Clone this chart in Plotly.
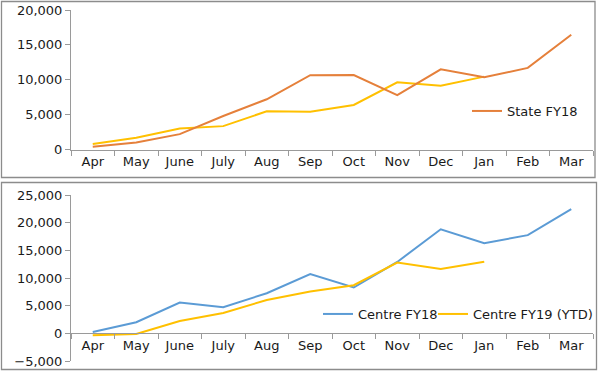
import plotly.graph_objects as go
from plotly.subplots import make_subplots

months = ["Apr", "May", "June", "July", "Aug", "Sep", "Oct", "Nov", "Dec", "Jan", "Feb", "Mar"]

state_fy18 = [400, 1000, 2200, 4800, 7200, 10650, 10680, 7800, 11500, 10350, 11700, 16450]
state_fy19 = [800, 1700, 3000, 3350, 5480, 5400, 6380, 9630, 9150, 10450]

centre_fy18 = [250, 2000, 5560, 4720, 7250, 10700, 8280, 12900, 18800, 16300, 17750, 22450]
centre_fy19 = [-350, -120, 2230, 3680, 6030, 7550, 8700, 12800, 11650, 12930]

ORANGE = "#E5803B"
YELLOW = "#FFC000"
BLUE = "#5B9BD5"
GREY = "#9a9a9a"
TXT = "#1a1a1a"
FONT = "DejaVu Sans"

W, H = 599, 372
L, R, T, B = 71, 6, 10, 11
PW, PH = W - L - R, H - T - B

def px2x(px):
    return (px - L) / PW

def px2y(py):
    return (H - B - py) / PH

top_dom = [px2y(149.5), 1.0]
bot_dom = [0.0, px2y(195)]
bot_range = [-5000, 25000]
zero_pos = bot_dom[0] + (0 - bot_range[0]) / (bot_range[1] - bot_range[0]) * (bot_dom[1] - bot_dom[0])

fig = make_subplots(rows=2, cols=1)

fig.add_trace(go.Scatter(x=months[:len(state_fy19)], y=state_fy19, mode="lines", name="State FY19 (YTD)",
                         line=dict(color=YELLOW, width=2), showlegend=False), row=1, col=1)
fig.add_trace(go.Scatter(x=months, y=state_fy18, mode="lines", name="State FY18",
                         line=dict(color=ORANGE, width=2), legend="legend"), row=1, col=1)
fig.add_trace(go.Scatter(x=months, y=centre_fy18, mode="lines", name="Centre FY18",
                         line=dict(color=BLUE, width=2), legend="legend2"), row=2, col=1)
fig.add_trace(go.Scatter(x=months[:len(centre_fy19)], y=centre_fy19, mode="lines", name="Centre FY19 (YTD)",
                         line=dict(color=YELLOW, width=2), legend="legend3"), row=2, col=1)

xcommon = dict(type="category", categoryorder="array", categoryarray=months, range=[-0.5, 11.5],
               showgrid=False, zeroline=False, showline=True, linecolor=GREY, linewidth=1,
               ticks="outside", tickson="boundaries", ticklen=5, tickcolor=GREY, automargin=False,
               tickfont=dict(family=FONT, size=13, color=TXT))
ycommon = dict(showgrid=False, zeroline=False, showline=True, linecolor=GREY, linewidth=1,
               ticks="outside", ticklen=5, tickcolor=GREY, tickformat=",", automargin=False,
               tickfont=dict(family=FONT, size=13, color=TXT))

fig.update_layout(
    xaxis=dict(**xcommon, domain=[0, 1], anchor="y"),
    yaxis=dict(**ycommon, domain=top_dom, range=[0, 20000], tickvals=[0, 5000, 10000, 15000, 20000]),
    xaxis2=dict(**xcommon, domain=[0, 1], anchor="free", position=zero_pos),
    yaxis2=dict(**ycommon, domain=bot_dom, range=bot_range,
                tickvals=[-5000, 0, 5000, 10000, 15000, 20000, 25000]),
)
legfont = dict(family=FONT, size=13, color=TXT)
fig.update_layout(
    width=W, height=H,
    margin=dict(l=L, r=R, t=T, b=B, pad=0, autoexpand=False),
    paper_bgcolor="white", plot_bgcolor="white",
    font=dict(family=FONT, size=13, color=TXT),
    legend=dict(x=px2x(583), xanchor="right", y=px2y(111), yanchor="middle",
                bgcolor="rgba(0,0,0,0)", font=legfont),
    legend2=dict(x=px2x(318), xanchor="left", y=px2y(314), yanchor="middle",
                 bgcolor="rgba(0,0,0,0)", font=legfont),
    legend3=dict(x=px2x(433), xanchor="left", y=px2y(314), yanchor="middle",
                 bgcolor="rgba(0,0,0,0)", font=legfont),
    shapes=[
        dict(type="rect", xref="paper", yref="paper", x0=px2x(1.5), x1=px2x(595), y0=px2y(177.5), y1=px2y(1.5),
             line=dict(color="#8c8c8c", width=1.3), layer="below"),
        dict(type="rect", xref="paper", yref="paper", x0=px2x(1.5), x1=px2x(596.5), y0=px2y(369.5), y1=px2y(182.5),
             line=dict(color="#8c8c8c", width=1.3), layer="below"),
    ],
)

fig.write_html("out.html", config={"displayModeBar": False},
               post_script="document.body.style.margin='0';document.body.style.overflow='hidden';")
